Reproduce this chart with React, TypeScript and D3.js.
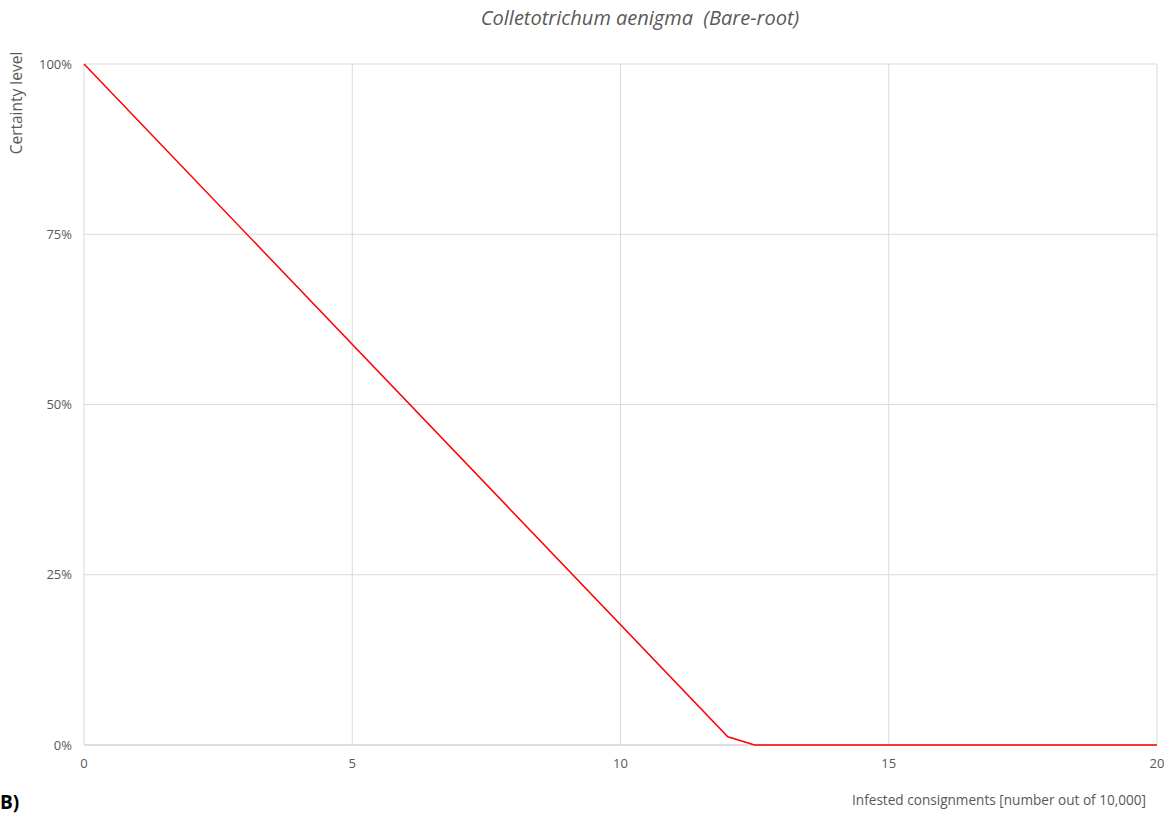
import React from "react";
import * as d3 from "d3";

const xValues = [0, 12, 12.5, 20];
const yValues = [1.0, 0.012, 0, 0];
const xTicks = [0, 5, 10, 15, 20];
const yTicks = [0, 0.25, 0.5, 0.75, 1.0];
const title = "Colletotrichum aenigma  (Bare-root)";
const xTitle = "Infested consignments [number out of 10,000]";
const yTitle = "Certainty level";
const panelLabel = "B)";

export default function App() {
  const W = 1173, H = 814;
  const left = 84, right = 1157, top = 64, bottom = 745;
  const x = d3.scaleLinear().domain([0, 20]).range([left, right]);
  const y = d3.scaleLinear().domain([0, 1]).range([bottom, top]);
  const data = xValues.map((v, i) => [v, yValues[i]] as [number, number]);
  const line = d3.line<[number, number]>().x(d => x(d[0])).y(d => y(d[1]));
  const font = "'Open Sans', sans-serif";
  const grey = "#595959";
  return (
    <svg width={W} height={H} style={{ position: "absolute", left: 0, top: 0, background: "#fff" }} fontFamily={font}>
      <rect x={0} y={0} width={W} height={H} fill="#fff" />
      {yTicks.map(t => (
        <line key={"gy" + t} x1={left} x2={right} y1={y(t)} y2={y(t)} stroke="#d9d9d9" strokeWidth={1} />
      ))}
      {xTicks.map(t => (
        <line key={"gx" + t} x1={x(t)} x2={x(t)} y1={top} y2={bottom} stroke="#d9d9d9" strokeWidth={1} />
      ))}
      <line x1={left} x2={right} y1={bottom} y2={bottom} stroke="#d0d0d0" strokeWidth={1} />
      {yTicks.map(t => (
        <text key={"ty" + t} x={72} y={y(t)} dy="0.35em" textAnchor="end" fontSize={13} fill={grey}>
          {d3.format(".0%")(t)}
        </text>
      ))}
      {xTicks.map(t => (
        <text key={"tx" + t} x={x(t)} y={768} textAnchor="middle" fontSize={13} fill={grey}>
          {t}
        </text>
      ))}
      <path d={line(data) || ""} fill="none" stroke="#ff0000" strokeWidth={1.5} />
      <text x={640} y={25} textAnchor="middle" fontSize={20} fontStyle="italic" fill={grey} style={{ whiteSpace: "pre" }}>{title}</text>
      <text x={1146} y={805} textAnchor="end" fontSize={13.6} fill={grey}>{xTitle}</text>
      <text transform="translate(22,103) rotate(-90)" textAnchor="middle" fontSize={15.5} fill={grey}>{yTitle}</text>
      <text x={0} y={809} fontSize={19} fontWeight="bold" fill="#000">{panelLabel}</text>
    </svg>
  );
}
